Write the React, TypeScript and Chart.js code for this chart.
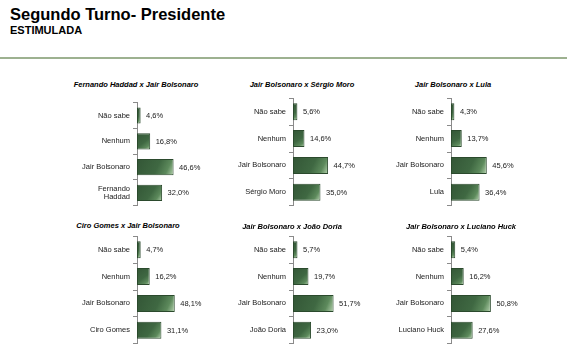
import React, { useEffect, useRef } from "react";
import { Chart, registerables } from "chart.js";

Chart.register(...registerables);

// ---- data ----
const baseCategories = ["Não sabe", "Nenhum", "Jair Bolsonaro"];
const panelTitles = [
  "Fernando Haddad x Jair Bolsonaro",
  "Jair Bolsonaro x Sérgio Moro",
  "Jair Bolsonaro x Lula",
  "Ciro Gomes x Jair Bolsonaro",
  "Jair Bolsonaro x João Doria",
  "Jair Bolsonaro x Luciano Huck",
];
const opponents: (string | string[])[] = [
  ["Fernando", "Haddad"],
  "Sérgio Moro",
  "Lula",
  "Ciro Gomes",
  "João Doria",
  "Luciano Huck",
];
const haddadValues = [4.6, 16.8, 46.6, 32.0];
const moroValues = [5.6, 14.6, 44.7, 35.0];
const lulaValues = [4.3, 13.7, 45.6, 36.4];
const ciroValues = [4.7, 16.2, 48.1, 31.1];
const doriaValues = [5.7, 19.7, 51.7, 23.0];
const huckValues = [5.4, 16.2, 50.8, 27.6];
const panelValues = [haddadValues, moroValues, lulaValues, ciroValues, doriaValues, huckValues];

// ---- layout ----
const FONT = "'Liberation Sans', Arial, sans-serif";
const axisXs = [137.3, 293.3, 450.7];
const rowAreaTops = [97.6, 235.8];
const areaHeights = [110, 110.5];
const titleCenters = [
  [136, 85],
  [302, 85],
  [453, 85],
  [128, 226],
  [292, 227],
  [461, 227],
];
const LABEL_W = 100;
const CANVAS_W = 175;
const CANVAS_H = 122;
const XMAX = 60;
const PX_PER_PCT = 0.785;

const fmt = (v: number) => v.toFixed(1).replace(".", ",") + "%";

const valueLabelPlugin = {
  id: "valueLabels",
  afterDatasetsDraw(chart: any) {
    const ctx = chart.ctx;
    const meta = chart.getDatasetMeta(0);
    const data = chart.data.datasets[0].data as number[];
    ctx.save();
    ctx.font = `7.5px ${FONT}`;
    ctx.fillStyle = "#1a1a1a";
    ctx.textAlign = "left";
    ctx.textBaseline = "middle";
    meta.data.forEach((bar: any, i: number) => {
      ctx.fillText(fmt(data[i]), bar.x + 5.5, bar.y + 0.5);
    });
    ctx.restore();
  },
};

function Panel({ idx }: { idx: number }) {
  const ref = useRef<HTMLCanvasElement | null>(null);
  const col = idx % 3;
  const row = Math.floor(idx / 3);
  const axisX = axisXs[col];
  const areaTop = rowAreaTops[row];
  const areaH = areaHeights[row];
  const left = axisX - LABEL_W;
  const top = Math.floor(areaTop) - 6;
  const padTop = areaTop - top;
  const padBottom = CANVAS_H - padTop - areaH;
  const padRight = CANVAS_W - LABEL_W - XMAX * PX_PER_PCT;

  useEffect(() => {
    if (!ref.current) return;
    const labels = [...baseCategories, opponents[idx]];
    const values = panelValues[idx];
    const chart = new Chart(ref.current, {
      type: "bar",
      data: {
        labels,
        datasets: [
          {
            data: values,
            backgroundColor: (c: any) => {
              const ch = c.chart;
              const xs = ch.scales?.x;
              const ys = ch.scales?.y;
              if (c.type !== "data" || !xs || !ys) return "#3c623d";
              const x0 = xs.getPixelForValue(0);
              const x1 = xs.getPixelForValue(c.raw);
              const yc = ys.getPixelForValue(c.dataIndex);
              if (![x0, x1, yc].every((v) => Number.isFinite(v))) return "#3c623d";
              const h = 17;
              const g = ch.ctx.createLinearGradient(x0, yc - h / 2, x1, yc + h / 2);
              g.addColorStop(0, "#335636");
              g.addColorStop(0.55, "#3f6842");
              g.addColorStop(0.8, "#5d8a5c");
              g.addColorStop(1, "#b9d6b2");
              return g;
            },
            borderColor: "#2b4a2d",
            borderWidth: 1,
            borderSkipped: false,
            categoryPercentage: 1,
            barPercentage: 0.63,
          },
        ],
      },
      options: {
        indexAxis: "y",
        responsive: false,
        animation: false,
        devicePixelRatio: 1,
        layout: { padding: { top: padTop, bottom: padBottom, left: 0, right: padRight } },
        plugins: {
          legend: { display: false },
          tooltip: { enabled: false },
          title: { display: false },
        },
        scales: {
          x: { display: false, min: 0, max: XMAX },
          y: {
            afterFit: (s: any) => {
              s.width = LABEL_W;
            },
            grid: {
              display: true,
              drawOnChartArea: false,
              drawTicks: true,
              tickLength: 4,
              color: "#8a8a8a",
              offset: true,
            },
            border: { display: true, color: "#8a8a8a", width: 1 },
            ticks: {
              padding: 3,
              color: "#1a1a1a",
              font: { family: FONT, size: 7.5, lineHeight: 1.15 },
            },
          },
        },
      },
      plugins: [valueLabelPlugin],
    } as any);
    return () => chart.destroy();
  }, [idx]);

  const [tcx, tcy] = titleCenters[idx];
  return (
    <>
      <div
        style={{
          position: "absolute",
          left: tcx,
          top: tcy - 5,
          transform: "translateX(-50%)",
          whiteSpace: "nowrap",
          font: `italic bold 7.5px ${FONT}`,
          lineHeight: "10px",
          color: "#000",
        }}
      >
        {panelTitles[idx]}
      </div>
      <canvas
        ref={ref}
        width={CANVAS_W}
        height={CANVAS_H}
        style={{ position: "absolute", left, top, width: CANVAS_W, height: CANVAS_H }}
      />
    </>
  );
}

export default function App() {
  useEffect(() => {
    document.body.style.margin = "0";
    document.body.style.background = "#ffffff";
  }, []);
  return (
    <div style={{ position: "relative", width: 567, height: 358, overflow: "hidden", background: "#fff" }}>
      <div
        style={{
          position: "absolute",
          left: 10,
          top: 5.5,
          font: `bold 16.5px ${FONT}`,
          lineHeight: "16.5px",
          whiteSpace: "nowrap",
          color: "#000",
        }}
      >
        Segundo Turno- Presidente
      </div>
      <div
        style={{
          position: "absolute",
          left: 10,
          top: 25,
          font: `bold 11px ${FONT}`,
          lineHeight: "11px",
          whiteSpace: "nowrap",
          color: "#000",
        }}
      >
        ESTIMULADA
      </div>
      <div
        style={{
          position: "absolute",
          left: 0,
          top: 56.5,
          width: 567,
          height: 2,
          background: "#9db190",
        }}
      />
      {[0, 1, 2, 3, 4, 5].map((i) => (
        <Panel key={i} idx={i} />
      ))}
    </div>
  );
}
